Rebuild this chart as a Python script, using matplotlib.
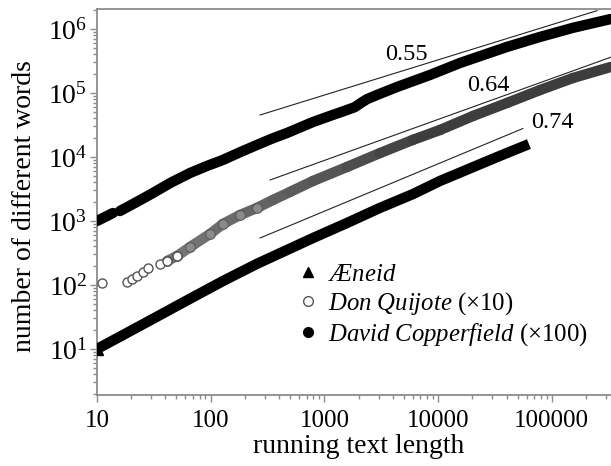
import numpy as np
import matplotlib.pyplot as plt
from matplotlib.lines import Line2D
from matplotlib.ticker import LogLocator, FuncFormatter, NullFormatter

plt.rcParams['font.family'] = 'Liberation Serif'
plt.rcParams['mathtext.fontset'] = 'custom'
plt.rcParams['mathtext.rm'] = 'Liberation Serif'
plt.rcParams['mathtext.it'] = 'Liberation Serif:italic'

# running text length vs. number of different words (raw counts)
aen_n = [10, 16.9, 33.7, 65.8, 128, 255, 469, 795, 1580, 3080, 6010, 10400, 20300, 35000, 63000]
aen_v = [10, 16.5, 32, 61, 115, 214, 352, 542, 930, 1600, 2630, 4220, 6940, 10400, 15900]

dq_n = [11.1, 18.4, 20.3, 22.5, 25.4, 28.1, 35.8, 41.3, 50.6, 65.8, 98.6, 128, 181, 255, 353,
        498, 795, 1580, 3080, 6010, 10400, 20300, 40400, 78700, 153000, 330000]
dq_v = [10.7, 11.1, 12.4, 13.8, 16.0, 18.4, 21.3, 23.7, 28.4, 39.2, 62.6, 89.8, 124, 160, 213,
        284, 422, 698, 1150, 1850, 2640, 4370, 6980, 11100, 17100, 25500]

dc_n = [10, 13.8, 15.9, 22.0, 31.1, 45.0, 65.8, 92.0, 128, 180, 255, 350, 469, 795, 1150,
        1580, 1850, 2100, 2370, 2900, 4350, 8490, 15600, 40400, 78700, 153000, 330000]
dc_v = [10, 13.3, 14.3, 19.5, 27.4, 40.0, 56.2, 72.0, 89.8, 118, 154, 195, 237, 352, 445,
        542, 600, 700, 800, 930, 1240, 1910, 2940, 5240, 7500, 10400, 14300]

dq_scale = 10
dc_scale = 100

# power-law guide lines: exponent, start length, start value, end length
fits = [
    (0.55, 272, 45300, 250000),
    (0.64, 333, 4370, 340000),
    (0.74, 272, 542, 55800),
]
fit_labels = [("0.55", 5320, 3.93e5), ("0.64", 27500, 1.29e5), ("0.74", 100500, 3.4e4)]

aen_n = np.array(aen_n); aen_v = np.array(aen_v)
dq_n = np.array(dq_n); dq_v = np.array(dq_v) * dq_scale
dc_n = np.array(dc_n); dc_v = np.array(dc_v) * dc_scale

fig = plt.figure(figsize=(6.11, 4.66), dpi=100)
ax = fig.add_axes([97 / 611, 71 / 466, 514 / 611, 386 / 466])
ax.set_xscale('log')
ax.set_yscale('log')

band = 7.5
# Aeneid
ax.plot(aen_n, aen_v, color='black', lw=band, solid_capstyle='butt', zorder=3)
ax.plot(aen_n[:1], aen_v[:1], '^', color='black', ms=9, zorder=3)

# Don Quijote: separate open circles at the start, then a gray band that darkens
# as the circles pile up
start = np.searchsorted(dq_n, 41)
last = len(dq_n) - 1
for i in range(start, last):
    t = (np.log10(dq_n[i]) - np.log10(dq_n[start])) / (np.log10(dq_n[last]) - np.log10(dq_n[start]))
    g = 0.47 - 0.23 * min(1.0, t * 1.8)
    ax.plot(dq_n[i:i + 2], dq_v[i:i + 2], color=(g, g, g), lw=band,
            solid_capstyle='round', zorder=3)
mid = (dq_n >= 41) & (dq_n <= 260)
ax.plot(dq_n[mid], dq_v[mid], 'o', ms=7, mfc='#8a8a8a', mec='#555555', mew=0.7, zorder=4)
sparse = dq_n <= 51
ax.plot(dq_n[sparse], dq_v[sparse], 'o', ms=6.5, mfc='white', mec='#555555',
        mew=1.0, zorder=4)

# David Copperfield, with the small gap after the first points
ax.plot(dc_n[:2], dc_v[:2], color='black', lw=band, solid_capstyle='round', zorder=3)
ax.plot(dc_n[2:], dc_v[2:], color='black', lw=band, solid_capstyle='round', zorder=3)

for b, x0, y0, x1 in fits:
    xs = np.array([x0, x1])
    ax.plot(xs, y0 * (xs / x0) ** b, color='#222222', lw=0.8, zorder=2)
for txt, x, y in fit_labels:
    ax.text(x, y, txt, fontsize=17.5, ha='center', va='center')

ax.set_xlim(10, 3.32e5)
ax.set_ylim(1.91, 2.05e6)

ax.xaxis.set_major_locator(LogLocator(base=10, numticks=10))
ax.xaxis.set_minor_locator(LogLocator(base=10, subs=np.arange(2, 10), numticks=20))
ax.xaxis.set_major_formatter(FuncFormatter(lambda v, p: '%d' % round(v)))
ax.xaxis.set_minor_formatter(NullFormatter())
ax.yaxis.set_major_locator(LogLocator(base=10, numticks=10))
ax.yaxis.set_minor_locator(LogLocator(base=10, subs=np.arange(2, 10), numticks=20))
ax.yaxis.set_minor_formatter(NullFormatter())

gray = '#8c8c8c'
for side in ['left', 'bottom', 'top']:
    ax.spines[side].set_color(gray)
    ax.spines[side].set_linewidth(1.3)
ax.spines['right'].set_visible(False)
ax.tick_params(which='both', direction='out', color=gray, width=1.0,
               top=False, right=False)
ax.tick_params(axis='x', labelsize=18, pad=6)
ax.tick_params(axis='y', labelsize=20, pad=2)
ax.tick_params(which='major', length=5)
ax.tick_params(which='minor', length=3, labelbottom=False, labelleft=False)

ax.set_xlabel('running text length', fontsize=20)
ax.set_ylabel('number of different words', fontsize=20)
ax.xaxis.set_label_coords(0.509, -0.100)
ax.yaxis.set_label_coords(-0.117, 0.49)

handles = [
    Line2D([], [], ls='none', marker='^', color='black', ms=7),
    Line2D([], [], ls='none', marker='o', mfc='white', mec='#555555', ms=7),
    Line2D([], [], ls='none', marker='o', color='black', ms=7),
]
labels = [r'$\AE neid$', r'$Don\ Quijote$ (×10)', r'$David\ Copperfield$ (×100)']
ax.legend(handles, labels, loc='upper left', bbox_to_anchor=(0.362, 0.373), frameon=False,
          fontsize=17.8, handletextpad=0.3, labelspacing=0.18, borderpad=0,
          handlelength=1.0)

fig.savefig('out.png', dpi=100)
